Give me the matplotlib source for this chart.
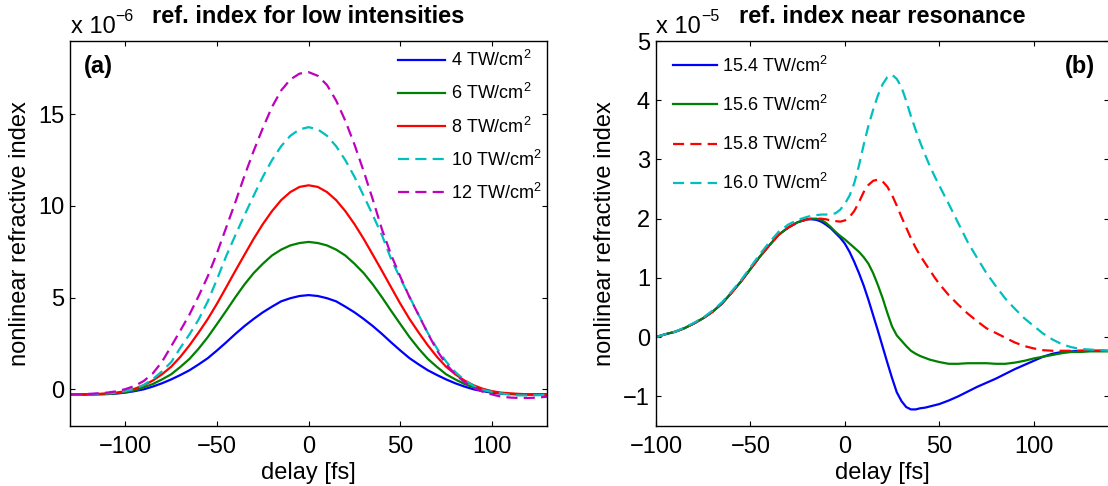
import matplotlib
matplotlib.use('Agg')
import matplotlib.pyplot as plt
from matplotlib.transforms import ScaledTranslation

plt.rcParams['font.family'] = ['Liberation Sans', 'DejaVu Sans']
plt.rcParams['mathtext.fontset'] = 'custom'
plt.rcParams['mathtext.rm'] = 'Liberation Sans'
plt.rcParams['mathtext.default'] = 'regular'

# ---------------- panel (a): low intensities (values x 1e-6) ----------------
delay_a = list(range(-130, 135, 5))
n_4tw = [-0.28, -0.28, -0.28, -0.27, -0.26, -0.23, -0.18, -0.10, 0.00, 0.15, 0.33, 0.54, 0.78,
         1.04, 1.36, 1.70, 2.12, 2.56, 3.02, 3.45, 3.84, 4.20, 4.51, 4.80, 4.97, 5.09, 5.14,
         5.09, 4.97, 4.80, 4.51, 4.20, 3.84, 3.45, 3.02, 2.56, 2.12, 1.70, 1.36, 1.04, 0.78,
         0.54, 0.33, 0.15, 0.00, -0.10, -0.18, -0.23, -0.26, -0.27, -0.28, -0.28, -0.28]
n_6tw = [-0.28, -0.28, -0.28, -0.27, -0.25, -0.22, -0.15, -0.06, 0.11, 0.29, 0.54, 0.82, 1.22,
         1.66, 2.22, 2.85, 3.56, 4.28, 5.02, 5.72, 6.34, 6.85, 7.30, 7.62, 7.85, 7.98, 8.04,
         7.98, 7.85, 7.62, 7.30, 6.85, 6.34, 5.72, 5.02, 4.28, 3.56, 2.85, 2.22, 1.66, 1.22,
         0.82, 0.54, 0.29, 0.11, -0.06, -0.15, -0.22, -0.25, -0.27, -0.28, -0.28, -0.28]
n_8tw = [-0.28, -0.28, -0.27, -0.25, -0.22, -0.18, -0.10, 0.03, 0.22, 0.48, 0.82, 1.23, 1.77,
         2.40, 3.10, 3.84, 4.67, 5.56, 6.46, 7.34, 8.21, 9.01, 9.72, 10.32, 10.76, 11.04, 11.13,
         11.04, 10.76, 10.32, 9.72, 9.01, 8.21, 7.34, 6.46, 5.56, 4.67, 3.84, 3.10, 2.40, 1.77,
         1.23, 0.82, 0.48, 0.22, 0.03, -0.10, -0.18, -0.22, -0.25, -0.27, -0.28, -0.28]
n_10tw = [-0.28, -0.28, -0.27, -0.25, -0.22, -0.18, -0.10, 0.03, 0.24, 0.56, 0.98, 1.48, 2.26,
          3.00, 3.81, 4.80, 6.00, 7.26, 8.40, 9.50, 10.56, 11.59, 12.50, 13.26, 13.83, 14.18, 14.30,
          14.18, 13.83, 13.26, 12.50, 11.59, 10.56, 9.50, 8.40, 7.10, 6.05, 5.05, 4.06, 3.07, 2.23,
          1.51, 0.94, 0.51, 0.18, -0.03, -0.14, -0.22, -0.30, -0.33, -0.33, -0.32, -0.30]
n_12tw = [-0.28, -0.27, -0.25, -0.22, -0.18, -0.11, 0.01, 0.18, 0.45, 0.87, 1.50, 2.34, 3.20,
          4.08, 5.09, 6.17, 7.43, 8.82, 10.20, 11.65, 13.00, 14.25, 15.40, 16.30, 16.90, 17.22, 17.30,
          17.10, 16.60, 15.75, 14.65, 13.35, 11.90, 10.35, 8.72, 7.33, 6.14, 5.03, 4.05, 3.05, 2.12,
          1.37, 0.82, 0.39, 0.08, -0.13, -0.28, -0.40, -0.45, -0.47, -0.47, -0.45, -0.40]
labels_a = ['4 TW/cm$^2$', '6 TW/cm$^2$', '8 TW/cm$^2$', '10 TW/cm$^2$', '12 TW/cm$^2$']

# ---------------- panel (b): near resonance (values x 1e-5) ----------------
delay_b = ([-100, -95, -90, -85, -80, -75, -70, -65, -60, -55, -50, -45, -40, -35, -30, -25, -20]
           + [-17.5, -15, -12.5, -10, -7.5, -5, -2.5, 0, 2.5, 5, 7.5, 10, 12.5, 15, 17.5, 20,
              22.5, 25, 27.5, 30, 32.5, 35, 37.5, 40, 42.5, 45, 47.5, 50]
           + [55, 60, 65, 70, 75, 80, 85, 90, 95, 100, 105, 110, 115, 120, 125, 130, 135, 140])
n_154tw = ([0.00, 0.05, 0.09, 0.15, 0.23, 0.32, 0.43, 0.57, 0.75, 0.94, 1.15, 1.36, 1.55, 1.73,
            1.85, 1.94, 1.99]
           + [1.99, 1.98, 1.95, 1.90, 1.84, 1.76, 1.68, 1.58, 1.44, 1.27, 1.08, 0.87, 0.63, 0.37,
              0.11, -0.16, -0.43, -0.69, -0.93, -1.08, -1.18, -1.22, -1.22, -1.20, -1.19, -1.17,
              -1.15, -1.13]
           + [-1.07, -1.00, -0.92, -0.84, -0.77, -0.70, -0.62, -0.54, -0.47, -0.40, -0.33, -0.28,
              -0.25, -0.24, -0.23, -0.23, -0.23, -0.23])
n_156tw = ([0.00, 0.05, 0.09, 0.15, 0.23, 0.32, 0.43, 0.57, 0.75, 0.94, 1.15, 1.36, 1.55, 1.73,
            1.85, 1.94, 1.99]
           + [2.00, 2.00, 1.98, 1.93, 1.86, 1.78, 1.71, 1.65, 1.58, 1.51, 1.44, 1.35, 1.24, 1.08,
              0.88, 0.66, 0.41, 0.18, 0.03, -0.06, -0.15, -0.23, -0.28, -0.32, -0.35, -0.38,
              -0.40, -0.42]
           + [-0.45, -0.45, -0.44, -0.44, -0.44, -0.45, -0.45, -0.43, -0.40, -0.36, -0.33, -0.30,
              -0.27, -0.25, -0.25, -0.24, -0.24, -0.24])
n_158tw = ([0.00, 0.05, 0.09, 0.15, 0.23, 0.32, 0.43, 0.57, 0.75, 0.94, 1.15, 1.36, 1.55, 1.73,
            1.85, 1.94, 1.99]
           + [2.00, 2.00, 2.00, 1.99, 1.97, 1.96, 1.95, 1.97, 2.03, 2.13, 2.28, 2.45, 2.57, 2.64,
              2.66, 2.63, 2.54, 2.40, 2.22, 2.03, 1.85, 1.67, 1.51, 1.37, 1.25, 1.13, 1.01, 0.90]
           + [0.71, 0.55, 0.40, 0.27, 0.15, 0.07, -0.01, -0.09, -0.15, -0.19, -0.22, -0.23,
              -0.23, -0.23, -0.23, -0.23, -0.23, -0.23])
n_160tw = ([0.00, 0.05, 0.09, 0.16, 0.24, 0.33, 0.45, 0.59, 0.77, 0.96, 1.18, 1.40, 1.60, 1.78,
            1.90, 1.98, 2.03]
           + [2.05, 2.06, 2.07, 2.07, 2.08, 2.09, 2.15, 2.25, 2.39, 2.60, 2.90, 3.25, 3.57, 3.84,
              4.08, 4.27, 4.39, 4.43, 4.36, 4.22, 3.99, 3.73, 3.50, 3.28, 3.08, 2.89, 2.72, 2.56]
           + [2.25, 1.93, 1.61, 1.34, 1.08, 0.86, 0.65, 0.48, 0.32, 0.19, 0.06, -0.04,
              -0.12, -0.17, -0.20, -0.21, -0.22, -0.23])
labels_b = ['15.4 TW/cm$^2$', '15.6 TW/cm$^2$', '15.8 TW/cm$^2$', '16.0 TW/cm$^2$']

BLUE, GREEN, RED, CYAN, MAGENTA = '#0000ff', '#008000', '#ff0000', '#00bfbf', '#bf00bf'
LW = 1.6
DASH = (0, (5.0, 2.8))
FS = 17

W, H = 1108, 486
fig = plt.figure(figsize=(W / 100, H / 100), dpi=100)
ax1 = fig.add_axes([70.3 / W, 60 / H, 476.7 / W, 385 / H])
ax2 = fig.add_axes([656 / W, 60 / H, 453.2 / W, 385 / H])

series_a = [(n_4tw, BLUE, '-'), (n_6tw, GREEN, '-'), (n_8tw, RED, '-'),
            (n_10tw, CYAN, DASH), (n_12tw, MAGENTA, DASH)]
for (vals, col, ls), lab in zip(series_a, labels_a):
    ax1.plot(delay_a, vals, color=col, lw=LW, ls=ls, label=lab)

series_b = [(n_154tw, BLUE, '-'), (n_156tw, GREEN, '-'), (n_158tw, RED, DASH),
            (n_160tw, CYAN, DASH)]
for (vals, col, ls), lab in zip(series_b, labels_b):
    ax2.plot(delay_b, vals, color=col, lw=LW, ls=ls, label=lab)

ax1.set_xlim(-130, 130)
ax1.set_ylim(-2, 19)
ax1.set_xticks([-100, -50, 0, 50, 100])
ax1.set_yticks([0, 5, 10, 15])
ax2.set_xlim(-100, 140)
ax2.set_ylim(-1.5, 5)
ax2.set_xticks([-100, -50, 0, 50, 100])
ax2.set_yticks([-1, 0, 1, 2, 3, 4, 5])

for ax in (ax1, ax2):
    ax.tick_params(direction='in', top=True, right=True, length=3.3, width=0.8,
                   labelsize=FS, colors='black')
    ax.tick_params(axis='x', pad=7.5)
    ax.tick_params(axis='y', pad=4.3)
    for sp in ax.spines.values():
        sp.set_linewidth(1.0)
        sp.set_color('black')
    ax.set_xlabel('delay [fs]', fontsize=FS, labelpad=2.5)
    ax.set_ylabel('nonlinear refractive index', fontsize=FS, labelpad=5)

ax1.set_title('ref. index for low intensities', fontsize=FS, fontweight='bold', pad=13)
ax2.set_title('ref. index near resonance', fontsize=FS, fontweight='bold', pad=13)

ax1.text(0.0287, 0.935, '(a)', transform=ax1.transAxes, fontsize=FS, fontweight='bold',
         ha='left', va='center')
ax2.text(0.9687, 0.935, '(b)', transform=ax2.transAxes, fontsize=FS, fontweight='bold',
         ha='right', va='center')


def offset_label(ax, exp_txt):
    t1 = ax.transAxes + ScaledTranslation(0.005, 0.08, fig.dpi_scale_trans)
    ax.text(0, 1, 'x 10', transform=t1, fontsize=FS, ha='left', va='baseline')
    t2 = ax.transAxes + ScaledTranslation(0.45, 0.203, fig.dpi_scale_trans)
    ax.text(0, 1, exp_txt, transform=t2, fontsize=11.5, ha='left', va='baseline')


offset_label(ax1, '\u22126')
offset_label(ax2, '\u22125')

ax1.legend(loc='upper left', bbox_to_anchor=(0.687, 0.976), frameon=False, fontsize=13,
           handlelength=2.6, handletextpad=0.32, labelspacing=0.72, borderpad=0,
           borderaxespad=0)
ax2.legend(loc='upper left', bbox_to_anchor=(0.038, 0.962), frameon=False, fontsize=13,
           handlelength=2.4, handletextpad=0.31, labelspacing=1.05, borderpad=0,
           borderaxespad=0)

fig.savefig('out.png', dpi=100)
